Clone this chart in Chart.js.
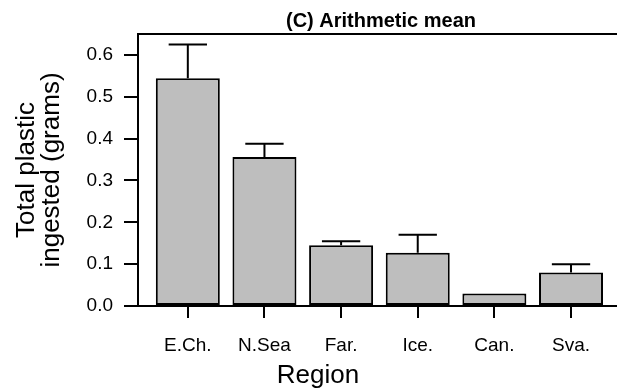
<!DOCTYPE html>
<html>
<head>
<meta charset="utf-8">
<script src="https://cdn.jsdelivr.net/npm/chart.js@4/dist/chart.umd.min.js"></script>
<style>
    html, body { margin: 0; padding: 0; background: #fff; }
    canvas { display: block; }
</style>
</head>
<body>
<canvas id="chart" width="617" height="388"></canvas>
<script>
// values
var regions = ['E.Ch.', 'N.Sea', 'Far.', 'Ice.', 'Can.', 'Sva.'];
var meanGrams = [0.544, 0.356, 0.145, 0.127, 0.030, 0.080];
var upperGrams = [0.625, 0.388, 0.155, 0.170, 0.030, 0.100];
var yTicks = [0, 0.1, 0.2, 0.3, 0.4, 0.5, 0.6];

var FONT = "'Liberation Sans', Arial, Helvetica, sans-serif";

// upper error bars (mean -> mean + se), like R's arrows(angle = 90)
var errorBars = {
    id: 'errorBars',
    afterDatasetsDraw: function (chart) {
        var ctx = chart.ctx;
        var x = chart.scales.x;
        var y = chart.scales.y;
        var half = (x.getPixelForValue(1) - x.getPixelForValue(0)) * 0.25;
        ctx.save();
        ctx.strokeStyle = '#000';
        ctx.lineWidth = 2;
        meanGrams.forEach(function (m, i) {
            var top = upperGrams[i];
            if (top <= m) return;
            var px = x.getPixelForValue(i);
            var y0 = y.getPixelForValue(m);
            var y1 = y.getPixelForValue(top);
            ctx.beginPath();
            ctx.moveTo(px, y0);
            ctx.lineTo(px, y1);
            ctx.moveTo(px - half, y1);
            ctx.lineTo(px + half, y1);
            ctx.stroke();
        });
        ctx.restore();
    }
};

// top edge of the box, panel title and x axis title
var frameAndText = {
    id: 'frameAndText',
    afterDraw: function (chart) {
        var ctx = chart.ctx;
        var a = chart.chartArea;
        ctx.save();
        ctx.strokeStyle = '#000';
        ctx.lineWidth = 2;
        ctx.beginPath();
        ctx.moveTo(a.left - 1, a.top);
        ctx.lineTo(chart.width, a.top);
        ctx.stroke();

        ctx.fillStyle = '#000';
        ctx.textAlign = 'center';
        ctx.textBaseline = 'alphabetic';
        ctx.font = 'bold 20px ' + FONT;
        ctx.fillText('(C) Arithmetic mean', 381, 27);
        ctx.font = '26px ' + FONT;
        ctx.fillText('Region', 318, 383);
        ctx.restore();
    }
};

new Chart(document.getElementById('chart').getContext('2d'), {
    type: 'bar',
    data: {
        datasets: [{
            data: regions.map(function (r, i) { return { x: i, y: meanGrams[i] }; }),
            backgroundColor: '#bebebe',
            borderColor: '#000',
            borderWidth: 2,
            borderSkipped: false,
            barPercentage: 0.835,
            categoryPercentage: 1
        }]
    },
    options: {
        responsive: false,
        animation: false,
        layout: { padding: { top: 34, left: 0, right: 0, bottom: 0 } },
        plugins: {
            legend: { display: false },
            tooltip: { enabled: false }
        },
        scales: {
            x: {
                type: 'linear',
                offset: false,
                min: -0.65,
                max: 5.6,
                afterBuildTicks: function (scale) {
                    scale.ticks = regions.map(function (r, i) { return { value: i }; });
                },
                afterFit: function (scale) { scale.height = 82; },
                grid: { offset: false, drawOnChartArea: false, tickLength: 12, color: '#000', lineWidth: 2 },
                border: { display: true, color: '#000', width: 2 },
                ticks: {
                    color: '#000',
                    font: { family: FONT, size: 19 },
                    padding: 16,
                    maxRotation: 0,
                    autoSkip: false,
                    callback: function (v) { return regions[v]; }
                }
            },
            y: {
                min: 0,
                max: 0.65,
                afterBuildTicks: function (scale) {
                    scale.ticks = yTicks.map(function (v) { return { value: v }; });
                },
                afterFit: function (scale) { scale.width = 138; },
                grid: { drawOnChartArea: false, tickLength: 14, color: '#000', lineWidth: 2 },
                border: { display: true, color: '#000', width: 2 },
                ticks: {
                    color: '#000',
                    font: { family: FONT, size: 19 },
                    padding: 11,
                    callback: function (v) { return v.toFixed(1); }
                },
                title: {
                    display: true,
                    text: ['Total plastic', 'ingested (grams)'],
                    color: '#000',
                    font: { family: FONT, size: 26, lineHeight: 0.96 },
                    padding: { top: 14, bottom: 0 }
                }
            }
        }
    },
    plugins: [errorBars, frameAndText]
});
</script>
</body>
</html>
